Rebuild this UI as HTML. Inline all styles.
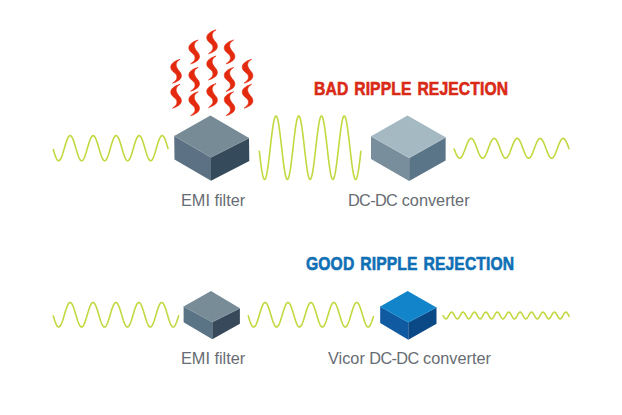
<!DOCTYPE html>
<html><head><meta charset="utf-8"><style>
html,body{margin:0;padding:0;background:#fff;}
body{width:622px;height:415px;position:relative;overflow:hidden;}
svg{position:absolute;left:0;top:0;}
.t{position:absolute;white-space:nowrap;font-family:"Liberation Sans",sans-serif;line-height:1;}
.h{font-weight:bold;font-size:18px;transform-origin:0 0;transform:scaleX(0.87);letter-spacing:0.15px;word-spacing:1.6px;-webkit-text-stroke:0.6px currentColor;}
.l{font-size:16.3px;color:#676c73;}
</style></head><body>
<svg width="622" height="415" viewBox="0 0 622 415">
<path d="M53.30,149.57 L53.80,151.26 L54.30,152.89 L54.80,154.44 L55.29,155.87 L55.79,157.15 L56.29,158.28 L56.79,159.21 L57.29,159.94 L57.79,160.45 L58.29,160.74 L58.79,160.79 L59.28,160.61 L59.78,160.20 L60.28,159.57 L60.78,158.73 L61.28,157.69 L61.78,156.47 L62.28,155.11 L62.78,153.61 L63.27,152.02 L63.77,150.35 L64.27,148.64 L64.77,146.93 L65.27,145.24 L65.77,143.60 L66.27,142.05 L66.76,140.61 L67.26,139.32 L67.76,138.19 L68.26,137.24 L68.76,136.50 L69.26,135.97 L69.76,135.67 L70.26,135.61 L70.75,135.77 L71.25,136.17 L71.75,136.79 L72.25,137.62 L72.75,138.64 L73.25,139.85 L73.75,141.21 L74.25,142.70 L74.74,144.29 L75.24,145.95 L75.74,147.65 L76.24,149.37 L76.74,151.06 L77.24,152.70 L77.74,154.26 L78.23,155.70 L78.73,157.01 L79.23,158.15 L79.73,159.11 L80.23,159.86 L80.73,160.40 L81.23,160.72 L81.73,160.80 L82.22,160.65 L82.72,160.26 L83.22,159.66 L83.72,158.84 L84.22,157.82 L84.72,156.63 L85.22,155.28 L85.72,153.80 L86.21,152.21 L86.71,150.55 L87.21,148.85 L87.71,147.13 L88.21,145.44 L88.71,143.79 L89.21,142.23 L89.70,140.78 L90.20,139.47 L90.70,138.31 L91.20,137.34 L91.70,136.58 L92.20,136.02 L92.70,135.70 L93.20,135.60 L93.69,135.74 L94.19,136.11 L94.69,136.70 L95.19,137.51 L95.69,138.51 L96.19,139.70 L96.69,141.04 L97.19,142.51 L97.68,144.09 L98.18,145.75 L98.68,147.45 L99.18,149.16 L99.68,150.86 L100.18,152.51 L100.68,154.08 L101.17,155.54 L101.67,156.86 L102.17,158.02 L102.67,159.00 L103.17,159.78 L103.67,160.35 L104.17,160.69 L104.67,160.80 L105.16,160.68 L105.66,160.32 L106.16,159.74 L106.66,158.95 L107.16,157.95 L107.66,156.78 L108.16,155.45 L108.66,153.98 L109.15,152.41 L109.65,150.75 L110.15,149.06 L110.65,147.34 L111.15,145.64 L111.65,143.99 L112.15,142.42 L112.64,140.95 L113.14,139.62 L113.64,138.44 L114.14,137.45 L114.64,136.66 L115.14,136.08 L115.64,135.72 L116.14,135.60 L116.63,135.71 L117.13,136.05 L117.63,136.62 L118.13,137.40 L118.63,138.38 L119.13,139.54 L119.63,140.87 L120.13,142.33 L120.62,143.90 L121.12,145.54 L121.62,147.24 L122.12,148.96 L122.62,150.66 L123.12,152.31 L123.62,153.89 L124.11,155.37 L124.61,156.71 L125.11,157.89 L125.61,158.90 L126.11,159.70 L126.61,160.29 L127.11,160.66 L127.61,160.80 L128.10,160.70 L128.60,160.38 L129.10,159.82 L129.60,159.05 L130.10,158.08 L130.60,156.93 L131.10,155.62 L131.60,154.16 L132.09,152.60 L132.59,150.96 L133.09,149.26 L133.59,147.55 L134.09,145.84 L134.59,144.18 L135.09,142.60 L135.58,141.12 L136.08,139.77 L136.58,138.58 L137.08,137.56 L137.58,136.74 L138.08,136.14 L138.58,135.75 L139.08,135.60 L139.57,135.68 L140.07,136.00 L140.57,136.54 L141.07,137.29 L141.57,138.25 L142.07,139.40 L142.57,140.70 L143.07,142.15 L143.56,143.70 L144.06,145.34 L144.56,147.04 L145.06,148.75 L145.56,150.46 L146.06,152.12 L146.56,153.71 L147.05,155.20 L147.55,156.55 L148.05,157.76 L148.55,158.78 L149.05,159.61 L149.55,160.23 L150.05,160.63 L150.55,160.79 L151.04,160.73 L151.54,160.43 L152.04,159.90 L152.54,159.16 L153.04,158.21 L153.54,157.08 L154.04,155.78 L154.54,154.34 L155.03,152.79 L155.53,151.16 L156.03,149.47 L156.53,147.75 L157.03,146.05 L157.53,144.38 L158.03,142.79 L158.52,141.29 L159.02,139.92 L159.52,138.71 L160.02,137.67 L160.52,136.83 L161.02,136.20 L161.52,135.79 L162.02,135.61 L162.51,135.66 L163.01,135.95 L163.51,136.46 L164.01,137.19 L164.51,138.13 L165.01,139.25 L165.51,140.54 L166.01,141.97 L166.50,143.51 L167.00,145.14 L167.50,146.83 L168.00,148.54" fill="none" stroke="#c3d840" stroke-width="1.6" stroke-linecap="round" stroke-linejoin="round"/>
<path d="M259.30,151.20 L259.80,155.50 L260.30,159.65 L260.79,163.58 L261.29,167.21 L261.79,170.46 L262.29,173.29 L262.79,175.64 L263.28,177.46 L263.78,178.71 L264.28,179.38 L264.78,179.46 L265.28,178.93 L265.77,177.81 L266.27,176.13 L266.77,173.91 L267.27,171.19 L267.77,168.04 L268.26,164.49 L268.76,160.63 L269.26,156.53 L269.76,152.26 L270.26,147.90 L270.75,143.54 L271.25,139.26 L271.75,135.14 L272.25,131.25 L272.75,127.68 L273.25,124.48 L273.74,121.72 L274.24,119.45 L274.74,117.72 L275.24,116.55 L275.74,115.97 L276.23,115.98 L276.73,116.60 L277.23,117.80 L277.73,119.57 L278.23,121.87 L278.72,124.65 L279.22,127.87 L279.72,131.47 L280.22,135.37 L280.72,139.50 L281.21,143.79 L281.71,148.15 L282.21,152.51 L282.71,156.77 L283.21,160.86 L283.70,164.71 L284.20,168.23 L284.70,171.36 L285.20,174.05 L285.70,176.24 L286.19,177.89 L286.69,178.98 L287.19,179.47 L287.69,179.36 L288.19,178.66 L288.68,177.37 L289.18,175.52 L289.68,173.14 L290.18,170.29 L290.68,167.01 L291.17,163.36 L291.67,159.42 L292.17,155.26 L292.67,150.95 L293.17,146.59 L293.66,142.24 L294.16,138.00 L294.66,133.94 L295.16,130.14 L295.66,126.67 L296.15,123.60 L296.65,120.99 L297.15,118.87 L297.65,117.31 L298.15,116.31 L298.65,115.91 L299.14,116.11 L299.64,116.90 L300.14,118.28 L300.64,120.21 L301.14,122.66 L301.63,125.58 L302.13,128.92 L302.63,132.61 L303.13,136.59 L303.63,140.78 L304.12,145.10 L304.62,149.47 L305.12,153.80 L305.62,158.02 L306.12,162.05 L306.61,165.80 L307.11,169.21 L307.61,172.22 L308.11,174.76 L308.61,176.80 L309.10,178.28 L309.60,179.19 L310.10,179.50 L310.60,179.21 L311.10,178.33 L311.59,176.87 L312.09,174.86 L312.59,172.33 L313.09,169.34 L313.59,165.95 L314.08,162.20 L314.58,158.19 L315.08,153.98 L315.58,149.64 L316.08,145.28 L316.57,140.95 L317.07,136.76 L317.57,132.77 L318.07,129.06 L318.57,125.71 L319.06,122.77 L319.56,120.30 L320.06,118.34 L320.56,116.94 L321.06,116.13 L321.55,115.91 L322.05,116.28 L322.55,117.25 L323.05,118.80 L323.55,120.89 L324.05,123.49 L324.54,126.54 L325.04,130.00 L325.54,133.78 L326.04,137.83 L326.54,142.07 L327.03,146.41 L327.53,150.78 L328.03,155.09 L328.53,159.26 L329.03,163.21 L329.52,166.87 L330.02,170.16 L330.52,173.04 L331.02,175.43 L331.52,177.30 L332.01,178.62 L332.51,179.34 L333.01,179.48 L333.51,179.01 L334.01,177.95 L334.50,176.32 L335.00,174.15 L335.50,171.48 L336.00,168.36 L336.50,164.85 L336.99,161.02 L337.49,156.94 L337.99,152.68 L338.49,148.33 L338.99,143.97 L339.48,139.67 L339.98,135.53 L340.48,131.62 L340.98,128.01 L341.48,124.77 L341.97,121.97 L342.47,119.65 L342.97,117.86 L343.47,116.64 L343.97,116.00 L344.46,115.96 L344.96,116.51 L345.46,117.66 L345.96,119.37 L346.46,121.62 L346.95,124.36 L347.45,127.54 L347.95,131.10 L348.45,134.98 L348.95,139.09 L349.45,143.37 L349.94,147.73 L350.44,152.09 L350.94,156.36 L351.44,160.47 L351.94,164.34 L352.43,167.90 L352.93,171.08 L353.43,173.81 L353.93,176.05 L354.43,177.76 L354.92,178.90 L355.42,179.45 L355.92,179.40 L356.42,178.75 L356.92,177.52 L357.41,175.72 L357.91,173.40 L358.41,170.59 L358.91,167.35 L359.41,163.73 L359.90,159.82 L360.40,155.67 L360.90,151.38" fill="none" stroke="#c3d840" stroke-width="1.6" stroke-linecap="round" stroke-linejoin="round"/>
<path d="M454.20,149.11 L454.70,150.44 L455.20,151.74 L455.70,152.97 L456.20,154.11 L456.70,155.15 L457.19,156.06 L457.69,156.82 L458.19,157.43 L458.69,157.86 L459.19,158.12 L459.69,158.20 L460.19,158.09 L460.69,157.80 L461.19,157.34 L461.69,156.71 L462.19,155.92 L462.69,154.99 L463.18,153.93 L463.68,152.77 L464.18,151.53 L464.68,150.23 L465.18,148.89 L465.68,147.54 L466.18,146.21 L466.68,144.91 L467.18,143.68 L467.68,142.53 L468.18,141.49 L468.67,140.58 L469.17,139.81 L469.67,139.19 L470.17,138.75 L470.67,138.48 L471.17,138.40 L471.67,138.50 L472.17,138.78 L472.67,139.24 L473.17,139.87 L473.67,140.65 L474.17,141.57 L474.66,142.62 L475.16,143.78 L475.66,145.02 L476.16,146.32 L476.66,147.65 L477.16,149.00 L477.66,150.34 L478.16,151.64 L478.66,152.87 L479.16,154.02 L479.66,155.07 L480.15,155.99 L480.65,156.76 L481.15,157.38 L481.65,157.83 L482.15,158.11 L482.65,158.20 L483.15,158.11 L483.65,157.83 L484.15,157.38 L484.65,156.76 L485.15,155.99 L485.65,155.07 L486.14,154.02 L486.64,152.87 L487.14,151.63 L487.64,150.34 L488.14,149.00 L488.64,147.65 L489.14,146.31 L489.64,145.01 L490.14,143.78 L490.64,142.62 L491.14,141.57 L491.63,140.65 L492.13,139.86 L492.63,139.24 L493.13,138.78 L493.63,138.50 L494.13,138.40 L494.63,138.48 L495.13,138.75 L495.63,139.20 L496.13,139.81 L496.63,140.58 L497.13,141.49 L497.62,142.53 L498.12,143.68 L498.62,144.91 L499.12,146.21 L499.62,147.55 L500.12,148.89 L500.62,150.23 L501.12,151.53 L501.62,152.78 L502.12,153.93 L502.62,154.99 L503.11,155.92 L503.61,156.71 L504.11,157.34 L504.61,157.80 L505.11,158.09 L505.61,158.20 L506.11,158.12 L506.61,157.86 L507.11,157.43 L507.61,156.82 L508.11,156.05 L508.61,155.15 L509.10,154.11 L509.60,152.97 L510.10,151.74 L510.60,150.44 L511.10,149.11 L511.60,147.76 L512.10,146.42 L512.60,145.12 L513.10,143.87 L513.60,142.71 L514.10,141.65 L514.59,140.72 L515.09,139.92 L515.59,139.28 L516.09,138.81 L516.59,138.52 L517.09,138.40 L517.59,138.47 L518.09,138.72 L518.59,139.15 L519.09,139.75 L519.59,140.51 L520.09,141.42 L520.58,142.45 L521.08,143.59 L521.58,144.81 L522.08,146.11 L522.58,147.44 L523.08,148.79 L523.58,150.13 L524.08,151.43 L524.58,152.68 L525.08,153.85 L525.58,154.91 L526.07,155.85 L526.57,156.65 L527.07,157.30 L527.57,157.77 L528.07,158.08 L528.57,158.20 L529.07,158.14 L529.57,157.89 L530.07,157.47 L530.57,156.87 L531.07,156.12 L531.57,155.22 L532.06,154.20 L532.56,153.06 L533.06,151.84 L533.56,150.55 L534.06,149.22 L534.56,147.87 L535.06,146.53 L535.56,145.22 L536.06,143.97 L536.56,142.80 L537.06,141.73 L537.55,140.79 L538.05,139.98 L538.55,139.33 L539.05,138.84 L539.55,138.53 L540.05,138.40 L540.55,138.46 L541.05,138.70 L541.55,139.11 L542.05,139.70 L542.55,140.45 L543.05,141.34 L543.54,142.36 L544.04,143.49 L544.54,144.71 L545.04,146.00 L545.54,147.33 L546.04,148.68 L546.54,150.02 L547.04,151.33 L547.54,152.58 L548.04,153.76 L548.54,154.83 L549.03,155.78 L549.53,156.59 L550.03,157.25 L550.53,157.74 L551.03,158.06 L551.53,158.19 L552.03,158.15 L552.53,157.92 L553.03,157.51 L553.53,156.93 L554.03,156.19 L554.53,155.30 L555.02,154.28 L555.52,153.16 L556.02,151.94 L556.52,150.65 L557.02,149.32 L557.52,147.98 L558.02,146.63 L558.52,145.32 L559.02,144.07 L559.52,142.89 L560.02,141.81 L560.51,140.86 L561.01,140.04 L561.51,139.37 L562.01,138.87 L562.51,138.55 L563.01,138.41 L563.51,138.45 L564.01,138.67 L564.51,139.07 L565.01,139.65 L565.51,140.38 L566.01,141.26 L566.50,142.27 L567.00,143.40 L567.50,144.61 L568.00,145.89 L568.50,147.22 L569.00,148.57" fill="none" stroke="#c3d840" stroke-width="1.6" stroke-linecap="round" stroke-linejoin="round"/>
<path d="M53.30,315.93 L53.80,317.59 L54.30,319.20 L54.80,320.72 L55.30,322.13 L55.80,323.41 L56.30,324.52 L56.79,325.45 L57.29,326.18 L57.79,326.69 L58.29,326.98 L58.79,327.04 L59.29,326.88 L59.79,326.48 L60.29,325.86 L60.79,325.04 L61.29,324.02 L61.79,322.83 L62.29,321.49 L62.78,320.02 L63.28,318.46 L63.78,316.82 L64.28,315.15 L64.78,313.46 L65.28,311.81 L65.78,310.20 L66.28,308.69 L66.78,307.28 L67.28,306.02 L67.78,304.92 L68.28,304.00 L68.78,303.28 L69.27,302.78 L69.77,302.51 L70.27,302.46 L70.77,302.64 L71.27,303.05 L71.77,303.68 L72.27,304.52 L72.77,305.55 L73.27,306.75 L73.77,308.10 L74.27,309.57 L74.77,311.14 L75.26,312.78 L75.76,314.46 L76.26,316.14 L76.76,317.80 L77.26,319.40 L77.76,320.91 L78.26,322.30 L78.76,323.56 L79.26,324.65 L79.76,325.55 L80.26,326.25 L80.76,326.74 L81.26,327.00 L81.75,327.04 L82.25,326.84 L82.75,326.41 L83.25,325.77 L83.75,324.92 L84.25,323.88 L84.75,322.67 L85.25,321.31 L85.75,319.83 L86.25,318.25 L86.75,316.61 L87.25,314.93 L87.75,313.25 L88.24,311.60 L88.74,310.01 L89.24,308.50 L89.74,307.11 L90.24,305.87 L90.74,304.79 L91.24,303.90 L91.74,303.21 L92.24,302.74 L92.74,302.49 L93.24,302.47 L93.74,302.68 L94.23,303.12 L94.73,303.78 L95.23,304.64 L95.73,305.69 L96.23,306.91 L96.73,308.28 L97.23,309.77 L97.73,311.35 L98.23,313.00 L98.73,314.67 L99.23,316.35 L99.73,318.00 L100.23,319.59 L100.72,321.09 L101.22,322.47 L101.72,323.71 L102.22,324.77 L102.72,325.65 L103.22,326.33 L103.72,326.79 L104.22,327.02 L104.72,327.02 L105.22,326.80 L105.72,326.34 L106.22,325.67 L106.71,324.80 L107.21,323.74 L107.71,322.51 L108.21,321.13 L108.71,319.63 L109.21,318.05 L109.71,316.40 L110.21,314.72 L110.71,313.04 L111.21,311.39 L111.71,309.81 L112.21,308.32 L112.71,306.95 L113.20,305.72 L113.70,304.66 L114.20,303.80 L114.70,303.14 L115.20,302.69 L115.70,302.47 L116.20,302.48 L116.70,302.73 L117.20,303.19 L117.70,303.88 L118.20,304.76 L118.70,305.84 L119.19,307.08 L119.69,308.46 L120.19,309.96 L120.69,311.56 L121.19,313.21 L121.69,314.89 L122.19,316.57 L122.69,318.21 L123.19,319.79 L123.69,321.27 L124.19,322.64 L124.69,323.85 L125.19,324.90 L125.68,325.75 L126.18,326.40 L126.68,326.83 L127.18,327.03 L127.68,327.01 L128.18,326.75 L128.68,326.27 L129.18,325.57 L129.68,324.67 L130.18,323.59 L130.68,322.34 L131.18,320.95 L131.67,319.44 L132.17,317.84 L132.67,316.19 L133.17,314.51 L133.67,312.83 L134.17,311.19 L134.67,309.61 L135.17,308.14 L135.67,306.78 L136.17,305.58 L136.67,304.54 L137.17,303.70 L137.67,303.07 L138.16,302.65 L138.66,302.46 L139.16,302.50 L139.66,302.77 L140.16,303.27 L140.66,303.98 L141.16,304.89 L141.66,305.98 L142.16,307.25 L142.66,308.65 L143.16,310.16 L143.66,311.76 L144.15,313.42 L144.65,315.10 L145.15,316.78 L145.65,318.41 L146.15,319.98 L146.65,321.45 L147.15,322.80 L147.65,323.99 L148.15,325.02 L148.65,325.84 L149.15,326.47 L149.65,326.87 L150.15,327.04 L150.64,326.99 L151.14,326.70 L151.64,326.19 L152.14,325.47 L152.64,324.55 L153.14,323.44 L153.64,322.17 L154.14,320.76 L154.64,319.24 L155.14,317.63 L155.64,315.97 L156.14,314.29 L156.64,312.62 L157.13,310.98 L157.63,309.42 L158.13,307.96 L158.63,306.62 L159.13,305.44 L159.63,304.43 L160.13,303.61 L160.63,303.00 L161.13,302.61 L161.63,302.45 L162.13,302.52 L162.63,302.82 L163.12,303.35 L163.62,304.08 L164.12,305.02 L164.62,306.14 L165.12,307.42 L165.62,308.83 L166.12,310.36 L166.62,311.97 L167.12,313.63 L167.62,315.32 L168.12,316.99 L168.62,318.62 L169.12,320.18 L169.61,321.63 L170.11,322.96 L170.61,324.13 L171.11,325.13 L171.61,325.93 L172.11,326.53 L172.61,326.90 L173.11,327.05 L173.61,326.96 L174.11,326.65 L174.61,326.11 L175.11,325.36 L175.60,324.42 L176.10,323.29 L176.60,322.00 L177.10,320.57 L177.60,319.04 L178.10,317.43 L178.60,315.76" fill="none" stroke="#c3d840" stroke-width="1.6" stroke-linecap="round" stroke-linejoin="round"/>
<path d="M248.30,315.93 L248.80,317.59 L249.30,319.19 L249.79,320.71 L250.29,322.12 L250.79,323.39 L251.29,324.51 L251.79,325.43 L252.28,326.17 L252.78,326.68 L253.28,326.98 L253.78,327.05 L254.28,326.88 L254.77,326.49 L255.27,325.89 L255.77,325.07 L256.27,324.07 L256.77,322.89 L257.26,321.55 L257.76,320.09 L258.26,318.53 L258.76,316.90 L259.26,315.24 L259.75,313.56 L260.25,311.90 L260.75,310.30 L261.25,308.78 L261.75,307.37 L262.24,306.10 L262.74,304.99 L263.24,304.06 L263.74,303.33 L264.24,302.81 L264.73,302.52 L265.23,302.46 L265.73,302.62 L266.23,303.01 L266.73,303.62 L267.22,304.43 L267.72,305.44 L268.22,306.63 L268.72,307.96 L269.22,309.42 L269.71,310.98 L270.21,312.61 L270.71,314.28 L271.21,315.96 L271.71,317.61 L272.20,319.22 L272.70,320.74 L273.20,322.14 L273.70,323.41 L274.20,324.52 L274.69,325.45 L275.19,326.18 L275.69,326.69 L276.19,326.98 L276.69,327.04 L277.18,326.88 L277.68,326.49 L278.18,325.88 L278.68,325.06 L279.18,324.05 L279.67,322.86 L280.17,321.53 L280.67,320.07 L281.17,318.51 L281.67,316.88 L282.16,315.21 L282.66,313.53 L283.16,311.87 L283.66,310.27 L284.16,308.75 L284.65,307.35 L285.15,306.08 L285.65,304.97 L286.15,304.04 L286.65,303.32 L287.14,302.81 L287.64,302.52 L288.14,302.46 L288.64,302.62 L289.14,303.02 L289.63,303.63 L290.13,304.45 L290.63,305.46 L291.13,306.65 L291.63,307.98 L292.12,309.44 L292.62,311.01 L293.12,312.64 L293.62,314.31 L294.12,315.99 L294.61,317.64 L295.11,319.24 L295.61,320.76 L296.11,322.17 L296.61,323.43 L297.10,324.54 L297.60,325.46 L298.10,326.19 L298.60,326.70 L299.10,326.98 L299.59,327.04 L300.09,326.87 L300.59,326.48 L301.09,325.86 L301.59,325.04 L302.08,324.03 L302.58,322.84 L303.08,321.51 L303.58,320.04 L304.08,318.48 L304.57,316.85 L305.07,315.18 L305.57,313.50 L306.07,311.85 L306.57,310.24 L307.06,308.73 L307.56,307.32 L308.06,306.06 L308.56,304.95 L309.06,304.03 L309.55,303.31 L310.05,302.80 L310.55,302.51 L311.05,302.46 L311.55,302.63 L312.05,303.03 L312.54,303.64 L313.04,304.47 L313.54,305.48 L314.04,306.67 L314.54,308.01 L315.03,309.47 L315.53,311.03 L316.03,312.66 L316.53,314.34 L317.03,316.01 L317.52,317.67 L318.02,319.27 L318.52,320.79 L319.02,322.19 L319.52,323.45 L320.01,324.56 L320.51,325.48 L321.01,326.20 L321.51,326.70 L322.01,326.99 L322.50,327.04 L323.00,326.87 L323.50,326.47 L324.00,325.85 L324.50,325.03 L324.99,324.01 L325.49,322.82 L325.99,321.48 L326.49,320.02 L326.99,318.45 L327.48,316.82 L327.98,315.15 L328.48,313.47 L328.98,311.82 L329.48,310.22 L329.97,308.70 L330.47,307.30 L330.97,306.04 L331.47,304.94 L331.97,304.02 L332.46,303.30 L332.96,302.79 L333.46,302.51 L333.96,302.46 L334.46,302.63 L334.95,303.03 L335.45,303.65 L335.95,304.48 L336.45,305.50 L336.95,306.69 L337.44,308.03 L337.94,309.50 L338.44,311.06 L338.94,312.69 L339.44,314.36 L339.93,316.04 L340.43,317.70 L340.93,319.30 L341.43,320.81 L341.93,322.21 L342.42,323.47 L342.92,324.57 L343.42,325.49 L343.92,326.21 L344.42,326.71 L344.91,326.99 L345.41,327.04 L345.91,326.86 L346.41,326.46 L346.91,325.84 L347.40,325.01 L347.90,323.99 L348.40,322.80 L348.90,321.46 L349.40,319.99 L349.89,318.43 L350.39,316.79 L350.89,315.12 L351.39,313.44 L351.89,311.79 L352.38,310.19 L352.88,308.68 L353.38,307.28 L353.88,306.02 L354.38,304.92 L354.87,304.00 L355.37,303.29 L355.87,302.79 L356.37,302.51 L356.87,302.46 L357.36,302.64 L357.86,303.04 L358.36,303.67 L358.86,304.50 L359.36,305.52 L359.85,306.71 L360.35,308.05 L360.85,309.52 L361.35,311.09 L361.85,312.72 L362.34,314.39 L362.84,316.07 L363.34,317.72 L363.84,319.32 L364.34,320.83 L364.83,322.23 L365.33,323.49 L365.83,324.59 L366.33,325.50 L366.83,326.22 L367.32,326.72 L367.82,326.99 L368.32,327.04 L368.82,326.86 L369.32,326.45 L369.81,325.83 L370.31,325.00 L370.81,323.97 L371.31,322.78 L371.81,321.43 L372.30,319.97 L372.80,318.40 L373.30,316.77" fill="none" stroke="#c3d840" stroke-width="1.6" stroke-linecap="round" stroke-linejoin="round"/>
<path d="M443.10,315.59 L443.60,316.51 L444.10,317.35 L444.59,318.05 L445.09,318.57 L445.59,318.85 L446.09,318.88 L446.59,318.66 L447.08,318.21 L447.58,317.55 L448.08,316.74 L448.58,315.84 L449.08,314.91 L449.57,314.03 L450.07,313.25 L450.57,312.65 L451.07,312.25 L451.57,312.10 L452.06,312.20 L452.56,312.55 L453.06,313.12 L453.56,313.87 L454.06,314.73 L454.55,315.66 L455.05,316.57 L455.55,317.40 L456.05,318.10 L456.55,318.59 L457.04,318.86 L457.54,318.88 L458.04,318.64 L458.54,318.17 L459.04,317.50 L459.53,316.68 L460.03,315.78 L460.53,314.85 L461.03,313.97 L461.53,313.20 L462.02,312.61 L462.52,312.23 L463.02,312.10 L463.52,312.22 L464.02,312.58 L464.52,313.17 L465.01,313.92 L465.51,314.80 L466.01,315.72 L466.51,316.63 L467.01,317.46 L467.50,318.14 L468.00,318.62 L468.50,318.87 L469.00,318.87 L469.50,318.61 L469.99,318.13 L470.49,317.45 L470.99,316.62 L471.49,315.71 L471.99,314.78 L472.48,313.91 L472.98,313.16 L473.48,312.58 L473.98,312.22 L474.48,312.10 L474.97,312.24 L475.47,312.62 L475.97,313.21 L476.47,313.98 L476.97,314.86 L477.46,315.79 L477.96,316.69 L478.46,317.51 L478.96,318.18 L479.46,318.64 L479.95,318.88 L480.45,318.86 L480.95,318.59 L481.45,318.09 L481.95,317.39 L482.44,316.56 L482.94,315.65 L483.44,314.72 L483.94,313.85 L484.44,313.11 L484.93,312.55 L485.43,312.20 L485.93,312.10 L486.43,312.26 L486.93,312.65 L487.42,313.26 L487.92,314.04 L488.42,314.92 L488.92,315.85 L489.42,316.75 L489.91,317.56 L490.41,318.22 L490.91,318.67 L491.41,318.88 L491.91,318.85 L492.40,318.56 L492.90,318.05 L493.40,317.34 L493.90,316.50 L494.40,315.58 L494.89,314.66 L495.39,313.80 L495.89,313.07 L496.39,312.51 L496.89,312.19 L497.38,312.10 L497.88,312.28 L498.38,312.69 L498.88,313.31 L499.38,314.10 L499.87,314.99 L500.37,315.92 L500.87,316.81 L501.37,317.61 L501.87,318.25 L502.36,318.69 L502.86,318.89 L503.36,318.84 L503.86,318.53 L504.36,318.00 L504.85,317.29 L505.35,316.44 L505.85,315.52 L506.35,314.60 L506.85,313.74 L507.35,313.02 L507.84,312.48 L508.34,312.17 L508.84,312.11 L509.34,312.30 L509.84,312.73 L510.33,313.36 L510.83,314.16 L511.33,315.05 L511.83,315.98 L512.33,316.87 L512.82,317.66 L513.32,318.29 L513.82,318.71 L514.32,318.89 L514.82,318.82 L515.31,318.50 L515.81,317.96 L516.31,317.23 L516.81,316.37 L517.31,315.45 L517.80,314.53 L518.30,313.69 L518.80,312.98 L519.30,312.45 L519.80,312.16 L520.29,312.11 L520.79,312.32 L521.29,312.76 L521.79,313.41 L522.29,314.22 L522.78,315.12 L523.28,316.04 L523.78,316.93 L524.28,317.71 L524.78,318.33 L525.27,318.73 L525.77,318.90 L526.27,318.81 L526.77,318.47 L527.27,317.91 L527.76,317.17 L528.26,316.31 L528.76,315.39 L529.26,314.47 L529.76,313.63 L530.25,312.93 L530.75,312.43 L531.25,312.15 L531.75,312.12 L532.25,312.34 L532.74,312.80 L533.24,313.46 L533.74,314.28 L534.24,315.18 L534.74,316.11 L535.23,316.99 L535.73,317.76 L536.23,318.36 L536.73,318.75 L537.23,318.90 L537.72,318.79 L538.22,318.44 L538.72,317.87 L539.22,317.12 L539.72,316.25 L540.21,315.32 L540.71,314.41 L541.21,313.58 L541.71,312.89 L542.21,312.40 L542.70,312.14 L543.20,312.13 L543.70,312.37 L544.20,312.84 L544.70,313.51 L545.19,314.34 L545.69,315.24 L546.19,316.17 L546.69,317.05 L547.19,317.81 L547.68,318.40 L548.18,318.77 L548.68,318.90 L549.18,318.78 L549.68,318.41 L550.18,317.82 L550.67,317.06 L551.17,316.19 L551.67,315.26 L552.17,314.35 L552.67,313.53 L553.16,312.85 L553.66,312.37 L554.16,312.13 L554.66,312.14 L555.16,312.39 L555.65,312.88 L556.15,313.57 L556.65,314.40 L557.15,315.31 L557.65,316.23 L558.14,317.10 L558.64,317.86 L559.14,318.43 L559.64,318.79 L560.14,318.90 L560.63,318.76 L561.13,318.37 L561.63,317.77 L562.13,317.00 L562.63,316.12 L563.12,315.19 L563.62,314.29 L564.12,313.47 L564.62,312.81 L565.12,312.35 L565.61,312.12 L566.11,312.15 L566.61,312.42 L567.11,312.92 L567.61,313.62 L568.10,314.46 L568.60,315.37 L569.10,316.30" fill="none" stroke="#c3d840" stroke-width="1.6" stroke-linecap="round" stroke-linejoin="round"/>
<polygon points="174.2,136 211,157.3 211,180.8 174.5,159.5" fill="#5c7284"/><polygon points="211,157.3 249,138 249.3,161 211,180.8" fill="#354a5a"/><polygon points="210.4,115.4 249,138 211,157.3 174.2,136" fill="#778b97"/><polyline points="174.2,136 211,157.3 249,138" fill="none" stroke="#82959f" stroke-width="0.8"/>
<polygon points="371,136.2 409.2,157.8 409.2,181 371,159" fill="#788e9c"/><polygon points="409.2,157.8 445.6,137.3 445.6,160.6 409.2,181" fill="#5a7488"/><polygon points="407.5,115.4 445.6,137.3 409.2,157.8 371,136.2" fill="#a5b9c2"/><polyline points="371,136.2 409.2,157.8 445.6,137.3" fill="none" stroke="#b0c2ca" stroke-width="0.8"/>
<polygon points="183.6,306.6 212.3,322 212.3,339.2 183.6,322.3" fill="#5b7485"/><polygon points="212.3,322 239.9,308.2 239.9,323.8 212.3,339.2" fill="#37495a"/><polygon points="211,291 239.9,308.2 212.3,322 183.6,306.6" fill="#788c98"/><polyline points="183.6,306.6 212.3,322 239.9,308.2" fill="none" stroke="#82959f" stroke-width="0.8"/>
<polygon points="380.2,306.6 408.3,322.2 408.3,339.8 380.2,323" fill="#0f5aa0"/><polygon points="408.3,322.2 436.5,307.4 436.5,323.8 408.3,339.8" fill="#0a4886"/><polygon points="407.6,291 436.5,307.4 408.3,322.2 380.2,306.6" fill="#1284c9"/><polyline points="380.2,306.6 408.3,322.2 436.5,307.4" fill="none" stroke="#2a90d2" stroke-width="0.8"/>
<defs><path id="fl" d="M9.3,-0.2 C8.48,0.12 5.72,0.98 4.40,1.70 C3.08,2.42 2.13,3.25 1.40,4.10 C0.67,4.95 0.17,5.85 0.00,6.80 C-0.17,7.75 0.00,8.90 0.40,9.80 C0.80,10.70 1.62,11.40 2.40,12.20 C3.18,13.00 4.48,13.75 5.10,14.60 C5.72,15.45 6.05,16.35 6.10,17.30 C6.15,18.25 6.13,19.23 5.40,20.30 C4.67,21.37 2.32,23.13 1.70,23.70 C2.27,23.50 3.88,23.12 5.10,22.50 C6.32,21.88 8.08,20.95 9.00,20.00 C9.92,19.05 10.45,17.88 10.60,16.80 C10.75,15.72 10.40,14.53 9.90,13.50 C9.40,12.47 8.28,11.60 7.60,10.60 C6.92,9.60 6.17,8.47 5.80,7.50 C5.43,6.53 5.28,5.70 5.40,4.80 C5.52,3.90 5.85,2.93 6.50,2.10 C7.15,1.27 8.83,0.18 9.30,-0.20Z" fill="#e42a0e" stroke="#e42a0e" stroke-width="0.6" stroke-linejoin="round"/></defs>
<use href="#fl" x="170.8" y="59.5"/>
<use href="#fl" x="170.8" y="84.5"/>
<use href="#fl" x="188.9" y="40.2"/>
<use href="#fl" x="188.9" y="67.5"/>
<use href="#fl" x="188.9" y="92.0"/>
<use href="#fl" x="206.8" y="30.0"/>
<use href="#fl" x="206.8" y="56.2"/>
<use href="#fl" x="206.8" y="83.8"/>
<use href="#fl" x="224.3" y="40.2"/>
<use href="#fl" x="224.3" y="67.7"/>
<use href="#fl" x="224.3" y="92.0"/>
<use href="#fl" x="242.3" y="59.5"/>
<use href="#fl" x="242.3" y="84.5"/>
</svg>
<div class="t h" style="left:313.6px;top:80px;color:#d92a16;">BAD RIPPLE REJECTION</div>
<div class="t h" style="left:305.5px;top:255px;color:#0f70b5;">GOOD RIPPLE REJECTION</div>
<div class="t l" style="left:181px;top:192px;">EMI filter</div>
<div class="t l" style="left:348px;top:192px;"><span style="letter-spacing:-0.65px">DC-DC</span> converter</div>
<div class="t l" style="left:181px;top:350px;">EMI filter</div>
<div class="t l" style="left:328px;top:350px;">Vicor <span style="letter-spacing:-0.65px">DC-DC</span> converter</div>
</body></html>
